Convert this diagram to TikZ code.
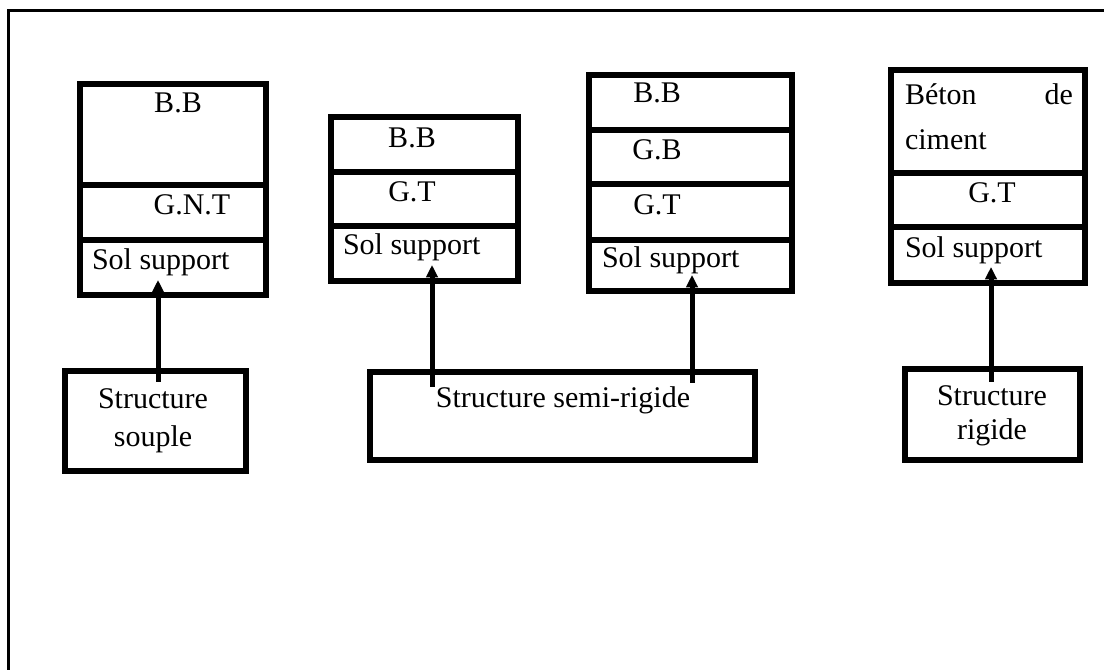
\documentclass[tikz,border=0pt]{standalone}
\usepackage{fontspec}
\setmainfont{Liberation Serif}
\usetikzlibrary{arrows.meta,fit,calc}

\begin{document}
\begin{tikzpicture}[x=0.4pt,y=-0.4pt,
        every node/.append style={inner sep=0pt,outer sep=0pt,font=\fontsize{12}{14}\selectfont},
        couche/.style={draw,line width=2.6pt},
        boite/.style={draw,line width=2.3pt},
        fleche/.style={-{Triangle[length=5pt,width=4.6pt]},line width=2pt}]
        \useasboundingbox (0,0) rectangle (1104,670);
        \draw[line width=1.2pt] (1104,11) -- (8,11) -- (8,670);

        % structure souple
        \node[couche,fit={(80,84) (266,185)}] (bb1) {};
        \node[couche,fit={(80,185) (266,240)}] (gnt1) {};
        \node[couche,fit={(80,240) (266,295)}] (sol1) {};
        \node (tbb1) at (178,103) {B.B};
        \node (tgnt1) at (192,205) {G.N.T};
        \node[anchor=west] (tsol1) at (92,262) {Sol support};

        % structure semi-rigide
        \node[couche,fit={(331,117) (518,172)}] (bb2) {};
        \node[couche,fit={(331,172) (518,226)}] (gt2) {};
        \node[couche,fit={(331,226) (518,281)}] (sol2) {};
        \node (tbb2) at (412,138) {B.B};
        \node (tgt2) at (412,192) {G.T};
        \node[anchor=west] (tsol2) at (343,247) {Sol support};

        \node[couche,fit={(589,75) (792,130)}] (bb3) {};
        \node[couche,fit={(589,130) (792,184)}] (gb3) {};
        \node[couche,fit={(589,184) (792,240)}] (gt3) {};
        \node[couche,fit={(589,240) (792,291)}] (sol3) {};
        \node (tbb3) at (657,93) {B.B};
        \node (tgb3) at (657,150) {G.B};
        \node (tgt3) at (657,205) {G.T};
        \node[anchor=west] (tsol3) at (602,260) {Sol support};

        % structure rigide
        \node[couche,fit={(891,70) (1085,173)}] (bc4) {};
        \node[couche,fit={(891,173) (1085,227)}] (gt4) {};
        \node[couche,fit={(891,227) (1085,283)}] (sol4) {};
        \node[anchor=west] (tbeton) at (905,94) {Béton};
        \node[anchor=east] (tde) at (1073,94) {de};
        \node[anchor=west] (tciment) at (905,140) {ciment};
        \node (tgt4) at (992,193) {G.T};
        \node[anchor=west] (tsol4) at (905,250) {Sol support};

        % types de structure
        \node[boite,fit={(65,371) (246,471)}] (souple) {};
        \node[align=center,font=\fontsize{12}{15}\selectfont] (tsouple) at (153,421) {Structure\\souple};
        \node[boite,fit={(370,372) (755,460)}] (semi) {};
        \node (tsemi) at (563,400) {Structure semi-rigide};
        \node[boite,fit={(905,369) (1080,460)}] (rigide) {};
        \node[align=center,font=\fontsize{12}{13.5}\selectfont] (trigide) at (992,416) {Structure\\rigide};

        \draw[fleche] ($(souple.north)+(2.5,11)$) -- ($(sol1.south)+(-15,-15)$);
        \draw[fleche] ($(semi.north)+(-130.5,15)$) -- ($(sol2.south)+(7.5,-16)$);
        \draw[fleche] ($(semi.north)+(129.5,11)$) -- ($(sol3.south)+(1.5,-16)$);
        \draw[fleche] ($(rigide.north)+(-1.5,13)$) -- ($(sol4.south)+(3,-16)$);
    \end{tikzpicture}
\end{document}
